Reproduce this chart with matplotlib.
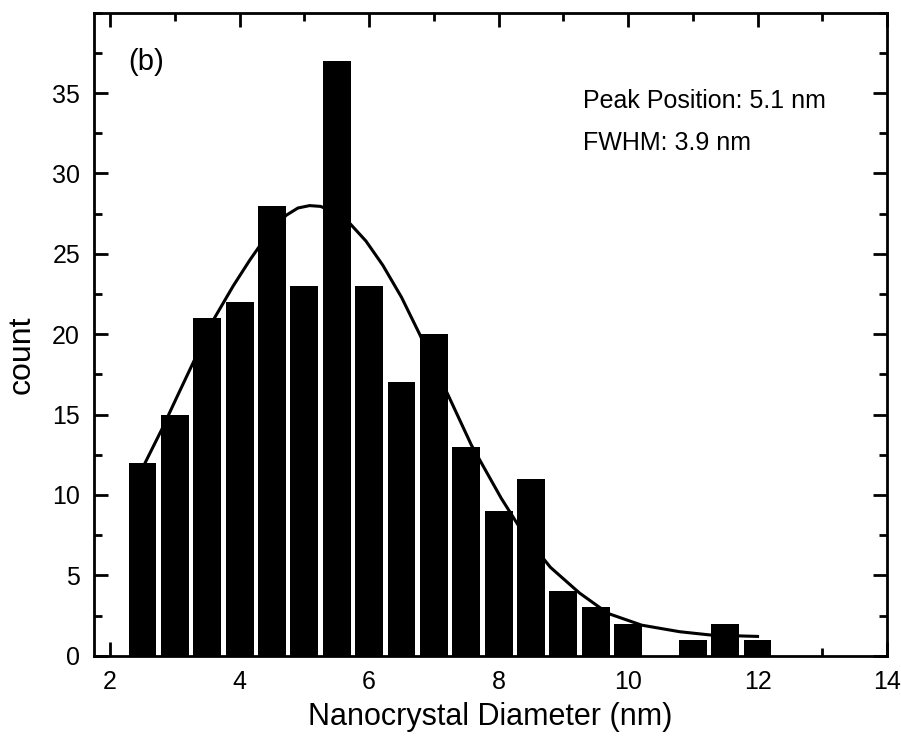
import matplotlib
matplotlib.use("Agg")
import matplotlib.pyplot as plt
from matplotlib.ticker import MultipleLocator

plt.rcParams['font.family'] = ['Liberation Sans', 'DejaVu Sans']

# Histogram data (bin centers in nm, counts)
diameters = [2.5, 3.0, 3.5, 4.0, 4.5, 5.0, 5.5, 6.0, 6.5, 7.0, 7.5, 8.0,
             8.5, 9.0, 9.5, 10.0, 11.0, 11.5, 12.0]
counts = [12, 15, 21, 22, 28, 23, 37, 23, 17, 20, 13, 9,
          11, 4, 3, 2, 1, 2, 1]

# Fit curve
fit_x = [2.54, 2.80, 3.02, 3.29, 3.61, 3.90, 4.155, 4.45, 4.72, 4.90, 5.08,
         5.25, 5.40, 5.55, 5.70, 5.95, 6.21, 6.50, 6.78, 7.00, 7.245, 7.58,
         8.04, 8.40, 8.80, 9.25, 9.69, 10.21, 10.80, 11.29, 12.0]
fit_y = [12.0, 14.1, 16.0, 18.3, 21.0, 23.0, 24.6, 26.3, 27.4, 27.85, 28.0,
         27.95, 27.7, 27.35, 26.9, 25.8, 24.3, 22.3, 20.0, 18.1, 16.0, 13.1,
         9.8, 7.5, 5.5, 3.9, 2.63, 1.90, 1.49, 1.28, 1.2]

fig = plt.figure(figsize=(9.01, 7.42), dpi=100)
ax = fig.add_axes([94/901, 1-655.7/742, (887-94)/901, (655.7-12.7)/742])

ax.plot(fit_x, fit_y, color='black', lw=2.2, zorder=1,
        solid_joinstyle='round')
ax.bar(diameters, counts, width=0.43, color='black', edgecolor='none', zorder=2)

ax.set_xlim(1.75, 14)
ax.set_ylim(0, 40)
ax.xaxis.set_major_locator(MultipleLocator(2))
ax.xaxis.set_minor_locator(MultipleLocator(1))
ax.set_yticks([0, 5, 10, 15, 20, 25, 30, 35])
ax.yaxis.set_minor_locator(MultipleLocator(2.5))

for s in ax.spines.values():
    s.set_linewidth(2.0)
ax.tick_params(which='both', direction='in', top=True, right=True, width=2.0)
ax.tick_params(which='major', length=10)
ax.tick_params(which='minor', length=5.5)
ax.tick_params(axis='x', which='major', labelsize=18, pad=10)
ax.tick_params(axis='y', which='major', labelsize=18, pad=10)

ax.set_xlabel('Nanocrystal Diameter (nm)', fontsize=22)
ax.xaxis.label.set_va('baseline')
ax.xaxis.set_label_coords(0.5, (655.7 - 725) / 643)
ax.set_ylabel('count', fontsize=23)
ax.yaxis.label.set_va('center')
ax.yaxis.set_label_coords((21.7 - 94) / 793, (655.7 - 355) / 643)

ax.text(128/901, 1 - 62/742, '(b)', transform=fig.transFigure, fontsize=21,
        ha='left', va='center')
ax.text(583/901, 1 - 108/742, 'Peak Position: 5.1 nm', transform=fig.transFigure,
        fontsize=18, ha='left', va='baseline')
ax.text(583/901, 1 - 150/742, 'FWHM: 3.9 nm', transform=fig.transFigure,
        fontsize=18, ha='left', va='baseline')

fig.savefig('out.png', dpi=100)
